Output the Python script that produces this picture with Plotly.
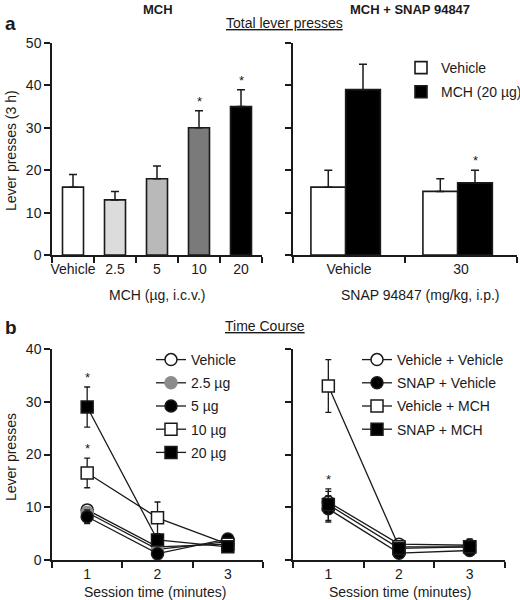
import plotly.graph_objects as go

# ---------------- data ----------------
mch_doses = ["Vehicle", "2.5", "5", "10", "20"]
mch_total = [16, 13, 18, 30, 35]
mch_total_err = [3, 2, 3, 4, 4]
mch_colors = ["white", "#dcdcdc", "#b9b9b9", "#7a7a7a", "black"]
mch_sig = [False, False, False, True, True]

snap_doses = ["Vehicle", "30"]
snap_vehicle = [16, 15]
snap_vehicle_err = [4, 3]
snap_mch = [39, 17]
snap_mch_err = [6, 3]
snap_mch_sig = [False, True]

session = ["1", "2", "3"]
tc_mch_names = ["Vehicle", "2.5 µg", "5 µg", "10 µg", "20 µg"]
tc_mch_vals = [
    [9.5, 2.5, 3.0],
    [9.0, 2.0, 3.5],
    [8.2, 1.2, 4.0],
    [16.5, 8.0, 3.0],
    [29.0, 3.8, 2.5],
]
tc_mch_err = [
    [1.0, 0.5, 0.5],
    [1.0, 0.5, 0.5],
    [1.3, 0.5, 0.5],
    [2.8, 3.0, 0.5],
    [3.8, 0.5, 0.5],
]
tc_mch_sig = [None, None, None, 0, 0]

tc_snap_names = ["Vehicle + Vehicle", "SNAP + Vehicle", "Vehicle + MCH", "SNAP + MCH"]
tc_snap_vals = [
    [11.0, 3.0, 2.8],
    [9.7, 1.3, 1.8],
    [33.0, 2.5, 2.5],
    [10.5, 2.2, 2.5],
]
tc_snap_err = [
    [2.0, 0.5, 1.2],
    [2.5, 0.5, 0.5],
    [5.0, 0.5, 1.0],
    [3.0, 0.5, 0.5],
]
tc_snap_sig = [None, None, None, 0]

# ---------------- styles ----------------
FONT = "Liberation Sans, Arial, sans-serif"
INK = "#1a1a1a"
GRAY_MK = "#8c8c8c"
line_markers_mch = [
    dict(symbol="circle", color="white", edge=INK),
    dict(symbol="circle", color=GRAY_MK, edge=GRAY_MK),
    dict(symbol="circle", color="black", edge=INK),
    dict(symbol="square", color="white", edge=INK),
    dict(symbol="square", color="black", edge=INK),
]
line_markers_snap = [
    dict(symbol="circle", color="white", edge=INK),
    dict(symbol="circle", color="black", edge=INK),
    dict(symbol="square", color="white", edge=INK),
    dict(symbol="square", color="black", edge=INK),
]

fig = go.Figure()

# ---- panel a, left: MCH dose bars ----
fig.add_trace(go.Bar(
    x=mch_doses, y=mch_total, width=0.5,
    marker=dict(color=mch_colors, line=dict(color=INK, width=1.6)),
    error_y=dict(type="data", array=mch_total_err, arrayminus=[0] * len(mch_total_err),
                 symmetric=False, color=INK, thickness=1.5, width=4),
    xaxis="x", yaxis="y", showlegend=False,
))

# ---- panel a, right: SNAP bars ----
fig.add_trace(go.Bar(
    x=snap_doses, y=snap_vehicle, width=0.31, offset=-0.34, name="Vehicle",
    legendgroup="v",
    marker=dict(color="white", line=dict(color=INK, width=1.6)),
    error_y=dict(type="data", array=snap_vehicle_err, arrayminus=[0, 0],
                 symmetric=False, color=INK, thickness=1.5, width=4),
    xaxis="x2", yaxis="y2", legend="legend",
))
fig.add_trace(go.Bar(
    x=snap_doses, y=snap_mch, width=0.31, offset=-0.03, name="MCH (20 µg)",
    legendgroup="m",
    marker=dict(color="black", line=dict(color=INK, width=1.6)),
    error_y=dict(type="data", array=snap_mch_err, arrayminus=[0, 0],
                 symmetric=False, color=INK, thickness=1.5, width=4),
    xaxis="x2", yaxis="y2", legend="legend",
))

# ---- panel b, left: time course MCH ----
for i, (name, vals, err, mk) in enumerate(zip(tc_mch_names, tc_mch_vals, tc_mch_err, line_markers_mch)):
    fig.add_trace(go.Scatter(
        x=session, y=vals, name=name, mode="lines+markers", legendgroup=f"a{i}",
        line=dict(color=INK, width=1.3),
        marker=dict(symbol=mk["symbol"], color=mk["color"], size=12,
                    line=dict(color=mk["edge"], width=1.5)),
        error_y=dict(type="data", array=err, color=INK, thickness=1.3, width=3),
        xaxis="x3", yaxis="y3", legend="legend2",
    ))

# ---- panel b, right: time course SNAP ----
for i, (name, vals, err, mk) in enumerate(zip(tc_snap_names, tc_snap_vals, tc_snap_err, line_markers_snap)):
    fig.add_trace(go.Scatter(
        x=session, y=vals, name=name, mode="lines+markers", legendgroup=f"b{i}",
        line=dict(color=INK, width=1.3),
        marker=dict(symbol=mk["symbol"], color=mk["color"], size=12,
                    line=dict(color=mk["edge"], width=1.5)),
        error_y=dict(type="data", array=err, color=INK, thickness=1.3, width=3),
        xaxis="x4", yaxis="y4", legend="legend3",
    ))

# ---------------- axes ----------------
def xcat(domain, anchor):
    return dict(domain=domain, anchor=anchor, type="category", showline=True,
                linecolor=INK, linewidth=1.5, ticks="outside", tickson="boundaries",
                ticklen=6, tickwidth=1.5, tickcolor=INK, showgrid=False, zeroline=False,
                tickangle=0, automargin=False,
                tickfont=dict(family=FONT, size=14, color=INK), fixedrange=True)

def ylin(domain, anchor, rng, dtick, labels=True):
    return dict(domain=domain, anchor=anchor, range=rng, dtick=dtick, showline=True,
                linecolor=INK, linewidth=1.5, ticks="outside", ticklen=6, tickwidth=1.5,
                tickcolor=INK, showgrid=False, zeroline=False, showticklabels=labels,
                automargin=False,
                tickfont=dict(family=FONT, size=14, color=INK), fixedrange=True)

top_dom = [1 - 255 / 600, 1 - 43 / 600]
bot_dom = [1 - 560 / 600, 1 - 349 / 600]

fig.update_layout(
    xaxis=dict(xcat([52 / 520, 262 / 520], "y"), range=[-0.5, 4.5]),
    yaxis=ylin(top_dom, "x", [0, 50], 10),
    xaxis2=dict(xcat([293 / 520, 517 / 520], "y2"), range=[-0.5, 1.5]),
    yaxis2=ylin(top_dom, "x2", [0, 50], 10, labels=False),
    xaxis3=dict(xcat([52 / 520, 263 / 520], "y3"), range=[-0.5, 2.5]),
    yaxis3=ylin(bot_dom, "x3", [0, 40], 10),
    xaxis4=dict(xcat([293 / 520, 505 / 520], "y4"), range=[-0.5, 2.5]),
    yaxis4=ylin(bot_dom, "x4", [0, 40], 10, labels=False),
)

# ---------------- legends ----------------
leg_font = dict(family=FONT, size=14, color=INK)
fig.update_layout(
    legend=dict(x=401 / 520, y=1 - 52 / 600, xanchor="left", yanchor="top",
                font=leg_font, bgcolor="rgba(0,0,0,0)", traceorder="grouped",
                tracegroupgap=3),
    legend2=dict(x=151 / 520, y=1 - 344 / 600, xanchor="left", yanchor="top",
                 font=leg_font, bgcolor="rgba(0,0,0,0)", traceorder="grouped",
                 tracegroupgap=2),
    legend3=dict(x=357 / 520, y=1 - 344 / 600, xanchor="left", yanchor="top",
                 font=leg_font, bgcolor="rgba(0,0,0,0)", traceorder="grouped",
                 tracegroupgap=2),
)

# ---------------- annotations ----------------
ann = []
def txt(x, y, text, size=14, bold=False, angle=0, xanchor="center"):
    t = f"<b>{text}</b>" if bold else text
    ann.append(dict(x=x / 520, y=1 - y / 600, xref="paper", yref="paper", text=t,
                    showarrow=False, textangle=angle, xanchor=xanchor, yanchor="middle",
                    font=dict(family=FONT, size=size, color=INK)))

txt(158, 9, "MCH", size=13, bold=True)
txt(410, 9, "MCH + SNAP 94847", size=13, bold=True)
txt(3, 23, "a", size=19, bold=True, xanchor="left")
txt(284, 23, "<u>Total lever presses</u>", size=14)
txt(11, 151, "Lever presses (3 h)", size=14, angle=-90)
txt(157, 295, "MCH (µg, i.c.v.)", size=14)
txt(420, 295, "SNAP 94847 (mg/kg, i.p.)", size=14)
txt(3, 327, "b", size=19, bold=True, xanchor="left")
txt(265, 326, "<u>Time Course</u>", size=14)
txt(11, 457, "Lever presses", size=14, angle=-90)
txt(155, 592, "Session time (minutes)", size=14)
txt(400, 592, "Session time (minutes)", size=14)

# significance stars, placed above the error bars (category index positions)
def star(xref, yref, xi, top, xshift=0):
    ann.append(dict(x=xi, y=top, xref=xref, yref=yref, text="*", showarrow=False,
                    yanchor="bottom", xshift=xshift,
                    font=dict(family=FONT, size=13, color=INK)))

for i, (v, e, s) in enumerate(zip(mch_total, mch_total_err, mch_sig)):
    if s:
        star("x", "y", i, v + e)
for i, (v, e, s) in enumerate(zip(snap_mch, snap_mch_err, snap_mch_sig)):
    if s:
        star("x2", "y2", i, v + e, xshift=14)
for vals, err, s in zip(tc_mch_vals, tc_mch_err, tc_mch_sig):
    if s is not None:
        star("x3", "y3", s, vals[s] + err[s])
for vals, err, s in zip(tc_snap_vals, tc_snap_err, tc_snap_sig):
    if s is not None:
        star("x4", "y4", s, vals[s] + err[s])

fig.update_layout(
    annotations=ann,
    width=520, height=600,
    margin=dict(l=0, r=0, t=0, b=0, autoexpand=False),
    paper_bgcolor="white", plot_bgcolor="white",
    barmode="overlay",
    font=dict(family=FONT, size=14, color=INK),
)

fig.write_html("out.html", config={"displayModeBar": False},
               post_script="document.body.style.margin='0px';")
